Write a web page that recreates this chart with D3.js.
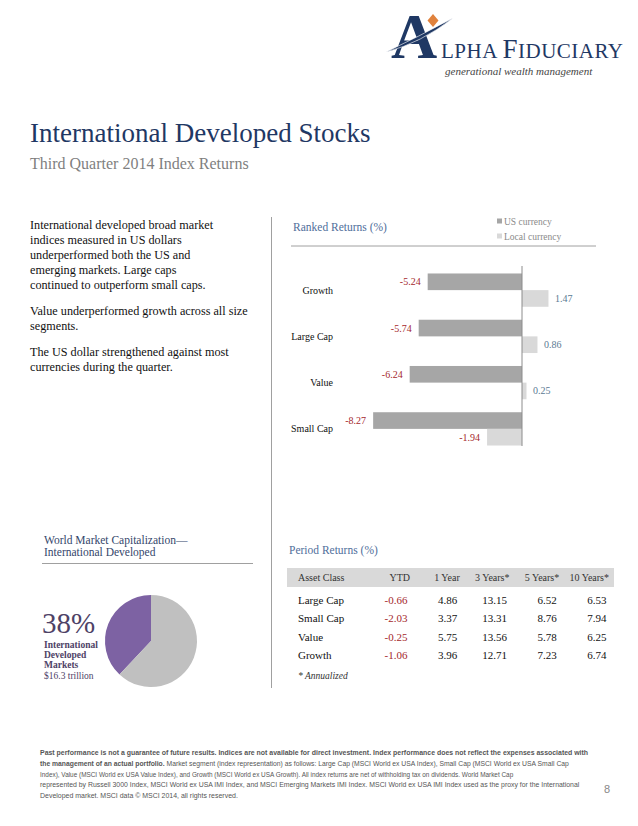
<!DOCTYPE html>
<html>
<head>
<meta charset="utf-8">
<script src="https://cdn.jsdelivr.net/npm/d3@7"></script>
<style>
  html, body { margin: 0; padding: 0; background: #fff; }
  svg { display: block; }
  text { font-family: "Liberation Serif", "Times New Roman", serif; }
</style>
</head>
<body>
<svg id="page" width="638" height="826"></svg>
<script>
// ---------- DATA ----------
const categories = ["Growth", "Large Cap", "Value", "Small Cap"];
const seriesNames = ["US currency", "Local currency"];
const usCurrency = [-5.24, -5.74, -6.24, -8.27];
const localCurrency = [1.47, 0.86, 0.25, -1.94];

const pieLabels = ["International Developed", "Rest of World"];
const pieValues = [38, 62];

const tableColumns = ["Asset Class", "YTD", "1 Year", "3 Years*", "5 Years*", "10 Years*"];
const tableRows = ["Large Cap", "Small Cap", "Value", "Growth"];
const ytd = [-0.66, -2.03, -0.25, -1.06];
const oneYear = [4.86, 3.37, 5.75, 3.96];
const threeYears = [13.15, 13.31, 13.56, 12.71];
const fiveYears = [6.52, 8.76, 5.78, 7.23];
const tenYears = [6.53, 7.94, 6.25, 6.74];

const bodyParagraphs = [
  ["International developed broad market", "indices measured in US dollars", "underperformed both the US and", "emerging markets. Large caps", "continued to outperform small caps."],
  ["Value underperformed growth across all size", "segments."],
  ["The US dollar strengthened against most", "currencies during the quarter."]
];

const footerLines = [
  [{t: "Past performance is not a guarantee of future results. Indices are not available for direct investment. Index performance does not reflect the expenses associated with", b: true}],
  [{t: "the management of an actual portfolio.", b: true}, {t: " Market segment (index representation) as follows: Large Cap (MSCI World ex USA Index), Small Cap (MSCI World ex USA Small Cap", b: false}],
  [{t: "Index), Value (MSCI World ex USA Value Index), and Growth (MSCI World ex USA Growth). All index returns are net of withholding tax on dividends. World Market Cap", b: false}],
  [{t: "represented by Russell 3000 Index, MSCI World ex USA IMI Index, and MSCI Emerging Markets IMI Index. MSCI World ex USA IMI Index used as the proxy  for the International", b: false}],
  [{t: "Developed market. MSCI data \u00A9 MSCI 2014, all rights reserved.", b: false}]
];
const footerWidths = [549, 530, 474, 540, 198];

// ---------- STYLE ----------
const navy = "#1f3864";
const headBlue = "#4f6e9b";
const usColor = "#a6a6a6";
const localColor = "#d9d9d9";
const negColor = "#a5282c";
const posColor = "#5b7a93";
const fmt = v => v.toFixed(2);

const svg = d3.select("#page");
svg.append("rect").attr("width", 638).attr("height", 826).attr("fill", "#fff");

// ---------- LOGO ----------
const logo = svg.append("g");
logo.append("text").attr("x", 391).attr("y", 58).attr("font-size", 64).attr("fill", navy).attr("font-weight", "bold").text("A");
logo.append("path")
  .attr("d", "M386,52 Q418,37 453,18 Q421,43 386,52 Z")
  .attr("fill", navy).attr("stroke", "#fff").attr("stroke-width", 0.6);
logo.append("path")
  .attr("d", "M433,14 L438.5,20.5 L433,27 L427.5,20.5 Z")
  .attr("fill", "#e0823d");
const logoText = logo.append("text").attr("x", 441).attr("y", 58).attr("fill", navy).attr("letter-spacing", 0.5);
logoText.append("tspan").attr("font-size", 21).text("LPHA ");
logoText.append("tspan").attr("font-size", 27).text("F");
logoText.append("tspan").attr("font-size", 21).text("IDUCIARY");
logo.append("text").attr("x", 445).attr("y", 75).attr("font-size", 11).attr("font-style", "italic")
  .attr("fill", "#444").text("generational wealth management");

// ---------- TITLE ----------
svg.append("text").attr("x", 30).attr("y", 142).attr("font-size", 27).attr("fill", navy)
  .text("International Developed Stocks");
svg.append("text").attr("x", 30).attr("y", 169).attr("font-size", 16).attr("fill", "#7f7f7f")
  .text("Third Quarter 2014 Index Returns");

// ---------- LEFT BODY TEXT ----------
let yy = 229;
bodyParagraphs.forEach(para => {
  para.forEach(line => {
    svg.append("text").attr("x", 30).attr("y", yy).attr("font-size", 12.2).attr("fill", "#111").text(line);
    yy += 15;
  });
  yy += 11;
});

// vertical divider
svg.append("line").attr("x1", 271.5).attr("x2", 271.5).attr("y1", 217).attr("y2", 688)
  .attr("stroke", "#a0a0a0").attr("stroke-width", 1);

// ---------- RANKED RETURNS BAR CHART ----------
svg.append("text").attr("x", 293).attr("y", 231).attr("font-size", 11.5).attr("fill", headBlue)
  .text("Ranked Returns (%)");
svg.append("line").attr("x1", 291).attr("x2", 596).attr("y1", 246).attr("y2", 246)
  .attr("stroke", "#a0a0a0").attr("stroke-width", 1);

const legendColors = [usColor, localColor];
seriesNames.forEach((s, i) => {
  const ly = 222 + i * 15;
  svg.append("rect").attr("x", 497).attr("y", ly - 3.5).attr("width", 5).attr("height", 5).attr("fill", legendColors[i]);
  svg.append("text").attr("x", 504).attr("y", ly + 3).attr("font-size", 9.5).attr("fill", "#8a8a8a").text(s);
});

const x = d3.scaleLinear().domain([-10, 4]).range([342, 594]);
const y = d3.scaleBand().domain(categories).range([267, 452]).paddingInner(0.28).paddingOuter(0.14);
const ySub = d3.scaleBand().domain(seriesNames).range([0, y.bandwidth()]);

const barData = categories.map((c, i) => ({cat: c, vals: [
  {s: seriesNames[0], v: usCurrency[i], c: usColor},
  {s: seriesNames[1], v: localCurrency[i], c: localColor}
]}));

const groups = svg.append("g").selectAll("g").data(barData).join("g")
  .attr("transform", d => `translate(0,${y(d.cat)})`);

groups.selectAll("rect").data(d => d.vals).join("rect")
  .attr("x", d => x(Math.min(0, d.v)))
  .attr("width", d => Math.abs(x(d.v) - x(0)))
  .attr("y", d => ySub(d.s))
  .attr("height", ySub.bandwidth())
  .attr("fill", d => d.c);

groups.selectAll("text.val").data(d => d.vals).join("text")
  .attr("class", "val")
  .attr("x", d => d.v < 0 ? x(d.v) - 7 : x(d.v) + 6.5)
  .attr("y", d => ySub(d.s) + ySub.bandwidth() / 2 + 3.5)
  .attr("text-anchor", d => d.v < 0 ? "end" : "start")
  .attr("font-size", 10)
  .attr("fill", d => d.v < 0 ? negColor : posColor)
  .text(d => fmt(d.v));

// category labels
svg.append("g").selectAll("text").data(categories).join("text")
  .attr("x", 333)
  .attr("y", d => y(d) + y.bandwidth() / 2 + 3.5)
  .attr("text-anchor", "end")
  .attr("font-size", 10)
  .attr("fill", "#111")
  .text(d => d);

// zero line
svg.append("line").attr("x1", x(0)).attr("x2", x(0)).attr("y1", 266).attr("y2", 446)
  .attr("stroke", "#8c8c8c").attr("stroke-width", 1);

// ---------- WORLD MARKET CAP PIE ----------
svg.append("text").attr("x", 44).attr("y", 544).attr("font-size", 11.5).attr("fill", "#34466b")
  .text("World Market Capitalization\u2014");
svg.append("text").attr("x", 44).attr("y", 556).attr("font-size", 11.5).attr("fill", "#34466b")
  .text("International Developed");
svg.append("line").attr("x1", 42).attr("x2", 253).attr("y1", 563.5).attr("y2", 563.5)
  .attr("stroke", "#a0a0a0").attr("stroke-width", 1);

const pieColors = d3.scaleOrdinal().domain(pieLabels).range(["#7d62a3", "#c0c0c0"]);
const pie = d3.pie().sort(null).value(d => d.v)
  .startAngle(-2 * Math.PI * pieValues[0] / 100).endAngle(2 * Math.PI - 2 * Math.PI * pieValues[0] / 100);
const arc = d3.arc().innerRadius(0).outerRadius(46);
svg.append("g").attr("transform", "translate(151,641)")
  .selectAll("path")
  .data(pie(pieLabels.map((l, i) => ({l, v: pieValues[i]}))))
  .join("path")
  .attr("d", arc)
  .attr("fill", d => pieColors(d.data.l));

svg.append("text").attr("x", 42).attr("y", 633).attr("font-size", 29).attr("fill", "#4e4266")
  .text(pieValues[0] + "%");
["International", "Developed", "Markets"].forEach((t, i) => {
  svg.append("text").attr("x", 44).attr("y", 648 + i * 10).attr("font-size", 9.5)
    .attr("font-weight", "bold").attr("fill", "#4e4266").text(t);
});
svg.append("text").attr("x", 44).attr("y", 679).attr("font-size", 9.5).attr("fill", "#4e4266")
  .text("$16.3 trillion");

// ---------- PERIOD RETURNS TABLE ----------
svg.append("text").attr("x", 289).attr("y", 554).attr("font-size", 11.5).attr("fill", headBlue)
  .text("Period Returns (%)");
svg.append("rect").attr("x", 287).attr("y", 568).attr("width", 327).attr("height", 19).attr("fill", "#d9d9d9");

const colX = d3.scalePoint().domain(tableColumns.slice(1)).range([409, 608]);
svg.append("text").attr("x", 298).attr("y", 581).attr("font-size", 10).attr("fill", "#333").text(tableColumns[0]);
svg.append("g").selectAll("text").data(tableColumns.slice(1)).join("text")
  .attr("x", d => colX(d) + 1)
  .attr("y", 581)
  .attr("text-anchor", "end")
  .attr("font-size", 10)
  .attr("fill", "#333")
  .text(d => d);

const rowY = d3.scalePoint().domain(tableRows).range([600, 655]);
const tableData = tableRows.map((r, i) => ({r, vals: [ytd[i], oneYear[i], threeYears[i], fiveYears[i], tenYears[i]]}));
const rowsG = svg.append("g").selectAll("g").data(tableData).join("g")
  .attr("transform", d => `translate(0,${rowY(d.r) + 4})`);
rowsG.append("text").attr("x", 298).attr("font-size", 11).attr("fill", "#111").text(d => d.r);
rowsG.selectAll("text.num").data(d => d.vals.map((v, j) => ({v, col: tableColumns[j + 1]}))).join("text")
  .attr("class", "num")
  .attr("x", d => colX(d.col) - 1.5)
  .attr("text-anchor", "end")
  .attr("font-size", 11)
  .attr("fill", d => d.v < 0 ? negColor : "#111")
  .text(d => fmt(d.v));

svg.append("text").attr("x", 298).attr("y", 679).attr("font-size", 9.5).attr("font-style", "italic")
  .attr("fill", "#333").text("* Annualized");

// ---------- FOOTER ----------
footerLines.forEach((parts, i) => {
  const g = svg.append("g");
  const t = g.append("text")
    .attr("x", 0).attr("y", 0)
    .attr("font-size", 7.6)
    .attr("fill", "#555")
    .style("font-family", "'Liberation Sans', Arial, sans-serif");
  parts.forEach(p => t.append("tspan").attr("font-weight", p.b ? "bold" : "normal").text(p.t));
  const natural = t.node().getComputedTextLength() || footerWidths[i];
  g.attr("transform", `translate(40,${755 + i * 10.8}) scale(${footerWidths[i] / natural},1)`);
});
svg.append("text").attr("x", 604).attr("y", 793).attr("font-size", 11).attr("fill", "#888")
  .style("font-family", "'Liberation Sans', Arial, sans-serif").text("8");
</script>
</body>
</html>
